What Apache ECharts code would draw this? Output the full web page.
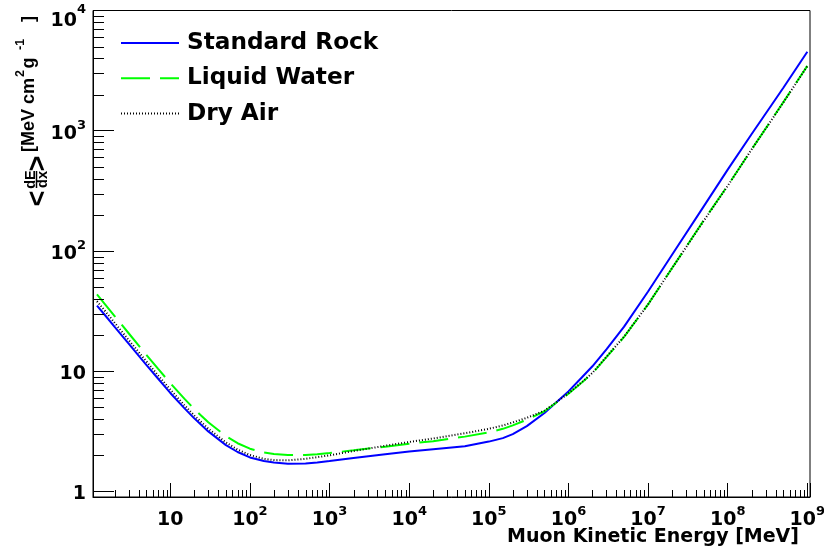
<!DOCTYPE html>
<html>
<head>
<meta charset="utf-8">
<script src="https://cdn.jsdelivr.net/npm/echarts@6/dist/echarts.min.js"></script>
<style>
html,body{margin:0;padding:0;background:#fff;}
#chart{width:824px;height:558px;}
</style>
</head>
<body>
<div id="chart"></div>
<script>
// Muon kinetic energy [MeV]
const energy = [1.2, 1.5, 2, 3, 5, 7, 10, 15, 20, 30, 50, 70, 100, 150, 200, 300, 500, 700,
  1e3, 2e3, 5e3, 1e4, 2e4, 5e4, 1e5, 1.5e5, 2e5, 3e5, 5e5, 7e5, 1e6, 1.5e6, 2e6, 3e6, 5e6, 1e7, 2e7, 5e7, 1e8, 2e8, 5e8, 1e9];
// <dE/dx> [MeV cm2 g-1]
const standardRock = [35.1, 29.5, 23.4, 17.0, 11.3, 8.7, 6.6, 4.94, 4.06, 3.16, 2.43, 2.13, 1.92, 1.79, 1.74, 1.70, 1.71, 1.74,
  1.79, 1.9, 2.04, 2.15, 2.25, 2.38, 2.6, 2.78, 3.0, 3.5, 4.5, 5.5, 6.8, 9.0, 11.0, 15.2, 23.5, 46, 93, 235, 475, 940, 2280, 4540];
const liquidWater = [43.5, 36.4, 28.8, 20.7, 13.7, 10.5, 7.97, 5.92, 4.85, 3.76, 2.885, 2.52, 2.27, 2.11, 2.05, 2.01, 2.01, 2.04,
  2.09, 2.2, 2.36, 2.5, 2.62, 2.86, 3.1, 3.32, 3.55, 3.95, 4.65, 5.47, 6.5, 8.15, 9.6, 13.1, 19.3, 36, 72, 180, 350, 700, 1730, 3460];
const dryAir = [38.2, 32.0, 25.3, 18.2, 12.1, 9.26, 7.04, 5.23, 4.29, 3.33, 2.56, 2.23, 2.01, 1.87, 1.825, 1.817, 1.87, 1.93,
  2.0, 2.17, 2.4, 2.58, 2.76, 3.05, 3.32, 3.54, 3.75, 4.1, 4.7, 5.5, 6.55, 8.2, 9.7, 13.2, 19.4, 36, 72, 178, 348, 700, 1720, 3450];
const seriesNames = ['Standard Rock', 'Liquid Water', 'Dry Air'];
const xTitle = 'Muon Kinetic Energy [MeV]';

const X_MIN = 1.07, X_MAX = 1.08e9, Y_MIN = 0.9, Y_MAX = 1e4;
const FONT = 'DejaVu Sans';
const TFONT = 'Liberation Sans';

function pairs(ys) { return energy.map((e, i) => [e, ys[i]]); }

// minor tick positions (2..9 x 10^k) inside the axis ranges
const xMinor = [], yMinor = [];
for (let k = 0; k <= 9; k++) for (let m = 2; m <= 9; m++) {
  const v = m * Math.pow(10, k);
  if (v > X_MIN && v < X_MAX) xMinor.push([v, 1]);
}
for (let k = -1; k <= 4; k++) for (let m = 2; m <= 9; m++) {
  const v = m * Math.pow(10, k);
  if (v > Y_MIN && v < Y_MAX) yMinor.push([2, v]);
}

function tok(size, pad) {
  return {fontSize: size, fontWeight: 'bold', fontFamily: FONT, color: '#000', lineHeight: size + 1, padding: pad};
}
function powLabel(b, s, special) {
  return function (value) {
    const e = Math.log10(value), r = Math.round(e);
    if (Math.abs(e - r) > 1e-6) return '';
    const bb = (special && r === 4) ? b + '4' : b;
    const ss = (special && r === 4) ? s + '4' : s;
    if (r === 0) return '{' + bb + '|1}';
    if (r === 1) return '{' + bb + '|10}';
    return '{' + bb + '|10}{' + ss + '|' + r + '}';
  };
}

// y-axis title, rotated group; local x runs up the page, local y runs right
function tt(text, x, y, size, align) {
  return {type: 'text', x: x, y: y, style: {text: text, fontSize: size, fontWeight: 'bold', fontFamily: TFONT,
    fill: '#000', align: align || 'left', verticalAlign: 'middle'}};
}
const titleChildren = [
  tt('<', 8.5, 15.5, 27, 'center'),
  tt('dE', 27.5, 7.5, 14.5, 'center'),
  {type: 'line', shape: {x1: 19, y1: 13.5, x2: 36, y2: 13.5}, style: {stroke: '#000', lineWidth: 1.5}},
  tt('dx', 27.5, 19.5, 14.5, 'center'),
  tt('>', 43.5, 15.5, 27, 'center'),
  tt('[MeV cm', 55, 6.5, 18),
  tt('2', 130, -2.5, 12.5),
  tt('g', 138.5, 6.5, 18),
  tt('-1', 157, -2.5, 12.5),
  tt(']', 185, 6.5, 18)
];

const lineCommon = {type: 'line', showSymbol: false, symbol: 'none', smooth: false};

const chart = echarts.init(document.getElementById('chart'), null, {renderer: 'canvas'});
const option = {
  animation: false,
  backgroundColor: '#fff',
  grid: {left: 93, right: 14, top: 10.5, bottom: 61, show: true, borderColor: '#000', borderWidth: 1,
         backgroundColor: 'transparent', containLabel: false, outerBoundsMode: 'none'},
  legend: {
    data: seriesNames,
    orient: 'vertical', left: 115, top: 25,
    itemWidth: 58, itemHeight: 14, itemGap: 9.3,
    itemStyle: {opacity: 0, color: 'transparent', borderColor: 'transparent', borderWidth: 0},
    textStyle: {fontSize: 23.2, fontWeight: 'bold', fontFamily: FONT, color: '#000', lineHeight: 26, padding: [0, 0, 0, 3]},
    selectedMode: false
  },
  xAxis: {
    type: 'log', logBase: 10, min: X_MIN, max: X_MAX,
    axisLine: {show: true, onZero: false, lineStyle: {color: '#000', width: 1}},
    axisTick: {show: true, inside: true, length: 14, lineStyle: {color: '#000', width: 1}},
    minorTick: {show: false}, splitLine: {show: false}, minorSplitLine: {show: false},
    axisLabel: {
      margin: 9, color: '#000', formatter: powLabel('xb', 'xs', false),
      rich: {xb: tok(19, [8, 0, 0, 0]), xs: tok(13, [3, 0, 11, 0])}
    }
  },
  yAxis: {
    type: 'log', logBase: 10, min: Y_MIN, max: Y_MAX,
    axisLine: {show: true, onZero: false, lineStyle: {color: '#000', width: 1}},
    axisTick: {show: true, inside: true, length: 21, lineStyle: {color: '#000', width: 1}},
    minorTick: {show: false}, splitLine: {show: false}, minorSplitLine: {show: false},
    axisLabel: {
      margin: 7, color: '#000', formatter: powLabel('yb', 'ys', true),
      rich: {
        yb: tok(19, [6, 0, 0, 0]), ys: tok(13, [0, 0, 10, 0]),
        yb4: tok(19, [21, 0, 0, 0]), ys4: tok(13, [12, 0, 13, 0])
      }
    }
  },
  series: [
    Object.assign({}, lineCommon, {name: seriesNames[0], data: pairs(standardRock), z: 3,
     lineStyle: {color: '#0000ff', width: 2, type: 'solid'}, itemStyle: {color: '#0000ff'}}),
    Object.assign({}, lineCommon, {name: seriesNames[1], data: pairs(liquidWater), z: 4,
     lineStyle: {color: '#00ff00', width: 2, type: [29, 10]}, itemStyle: {color: '#00ff00'}}),
    Object.assign({}, lineCommon, {name: seriesNames[2], data: pairs(dryAir), z: 5,
     lineStyle: {color: '#000000', width: 2, type: [1, 2]}, itemStyle: {color: '#000000'}}),
    {type: 'custom', silent: true, data: xMinor, encode: {x: 0, y: 1}, z: 6,
     renderItem: function (params, api) {
       const cs = params.coordSys;
       const x = Math.round(api.coord([api.value(0), 1])[0]) + 0.5;
       const yb = cs.y + cs.height;
       return {type: 'line', shape: {x1: x, y1: yb, x2: x, y2: yb - 7}, style: {stroke: '#000', lineWidth: 1}};
     }},
    {type: 'custom', silent: true, data: yMinor, encode: {x: 0, y: 1}, z: 6,
     renderItem: function (params, api) {
       const cs = params.coordSys;
       const y = Math.round(api.coord([2, api.value(1)])[1]) + 0.5;
       return {type: 'line', shape: {x1: cs.x, y1: y, x2: cs.x + 11, y2: y}, style: {stroke: '#000', lineWidth: 1}};
     }}
  ],
  graphic: [
    {type: 'text', x: 799, y: 537, style: {text: xTitle, fontSize: 19, fontWeight: 'bold', fontFamily: FONT,
      fill: '#000', align: 'right', verticalAlign: 'middle'}},
    {type: 'group', x: 23, y: 207, rotation: Math.PI / 2, children: titleChildren}
  ]
};
chart.setOption(option);
</script>
</body>
</html>
